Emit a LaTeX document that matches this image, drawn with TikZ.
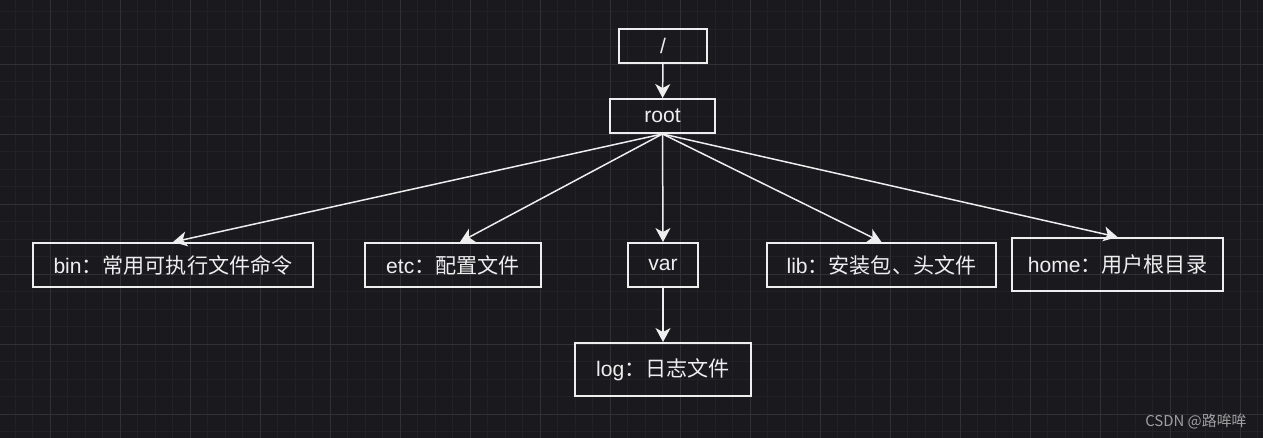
\documentclass[tikz,border=0pt]{standalone}
\usepackage{fontspec}
\setmainfont{Liberation Sans}
\newfontfamily\cjk{Noto Sans CJK SC}
\usetikzlibrary{arrows.meta}

\definecolor{bgcol}{RGB}{26,25,30}
\definecolor{minorcol}{RGB}{34,33,38}
\definecolor{majorcol}{RGB}{49,48,53}
\definecolor{linecol}{RGB}{238,238,238}
\definecolor{markcol}{RGB}{160,160,160}

\begin{document}
\begin{tikzpicture}[x=0.02cm,y=-0.02cm,
	>={Stealth[length=0.28cm,width=0.3cm,inset=0.08cm]},
	box/.style={draw=linecol,line width=1.1pt,text=linecol,inner sep=0pt,
		font=\fontsize{12}{14}\selectfont},
	link/.style={->,draw=linecol,line width=0.85pt}]

% background and grid
\fill[bgcol] (0,0) rectangle (1263,438);
\useasboundingbox (0,0) rectangle (1263,438);
\foreach \gx in {15,32.5,...,1263}
	\draw[minorcol,line width=0.4pt] (\gx,0)--(\gx,438);
\foreach \gy in {11.5,29,...,438}
	\draw[minorcol,line width=0.4pt] (0,\gy)--(1263,\gy);
\foreach \gx in {50,120,...,1263}
	\draw[majorcol,line width=0.5pt] (\gx,0)--(\gx,438);
\foreach \gy in {64,134,...,438}
	\draw[majorcol,line width=0.5pt] (0,\gy)--(1263,\gy);

% directories
\node[box,minimum width=1.76cm,minimum height=0.68cm] (slash) at (663,46) {/};
\node[box,minimum width=2.1cm,minimum height=0.68cm] (root) at (662.5,116) {root};
\node[box,minimum width=5.6cm,minimum height=0.88cm] (bin) at (173,265)
	{bin\cjk：常用可执行文件命令};
\node[box,minimum width=3.52cm,minimum height=0.88cm] (etc) at (453,265)
	{etc\cjk：配置文件};
\node[box,minimum width=1.4cm,minimum height=0.88cm] (var) at (663,265) {var};
\node[box,minimum width=4.58cm,minimum height=0.88cm] (lib) at (881.5,265)
	{lib\cjk：安装包、头文件};
\node[box,minimum width=4.22cm,minimum height=1.06cm] (home) at (1117.5,264.5)
	{home\cjk：用户根目录};
\node[box,minimum width=3.52cm,minimum height=1.06cm] (log) at (663,369.5)
	{log\cjk：日志文件};

\node[anchor=east,text=markcol,inner sep=0pt,font=\cjk\fontsize{8.5}{10}\selectfont]
	(mark) at (1247,421) {CSDN @路哞哞};

% arrows
\draw[link] (slash)--(root);
\foreach \dir in {bin,var,lib,home}
	\draw[link] (root.south)--(\dir.north);
\draw[link] (root.south)--([xshift=0.14cm]etc.north);
\draw[link] (var)--(log);

\end{tikzpicture}
\end{document}
